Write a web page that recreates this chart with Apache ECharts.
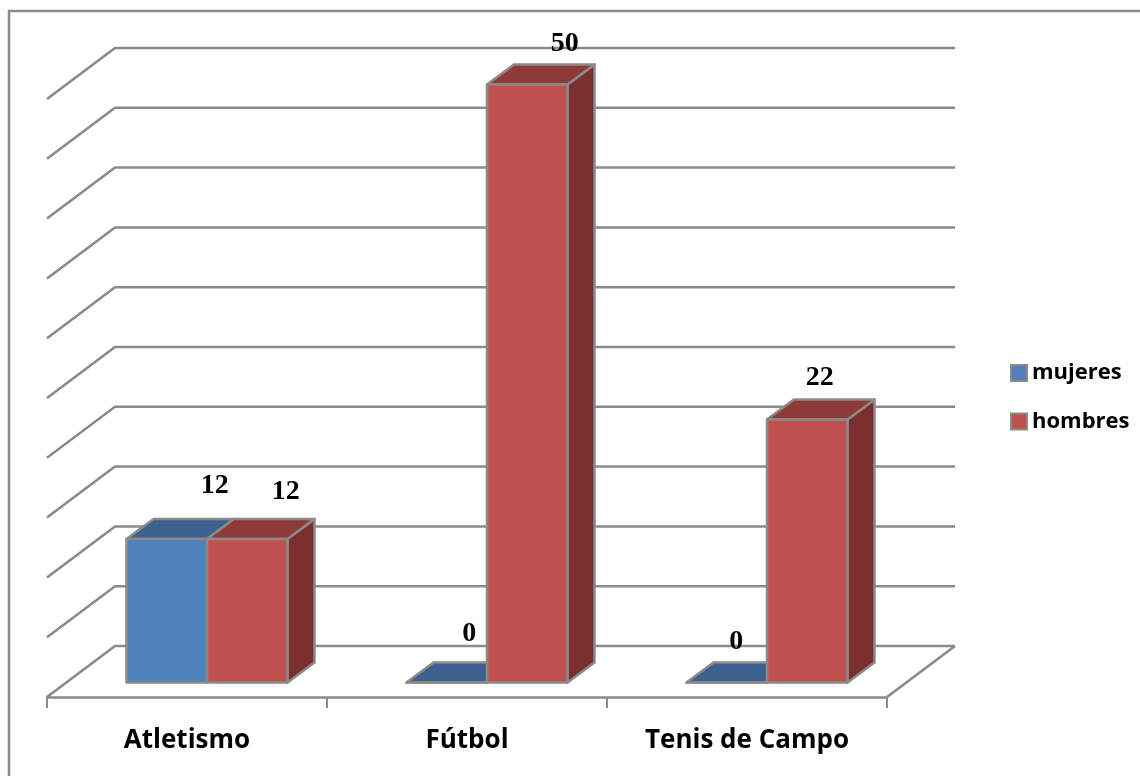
<!DOCTYPE html>
<html>
<head>
<meta charset="utf-8">
<style>html,body{margin:0;padding:0;background:#fff}#c{width:1140px;height:776px}</style>
<script src="https://cdn.jsdelivr.net/npm/echarts@6/dist/echarts.min.js"></script>
</head>
<body>
<div id="c"></div>
<script>
const categories = ['Atletismo', 'Fútbol', 'Tenis de Campo'];
const mujeres = [12, 0, 0];
const hombres = [12, 50, 22];
const gridTicks = [0, 5, 10, 15, 20, 25, 30, 35, 40, 45, 50];

// 3D projection constants (pixels)
const WALL = [68, -51], BAR_FRONT = [20, -14.5], BAR_DEPTH = [27, -20];
const BAR_RATIO = 80.5 / 280;
const EDGE = '#8a8a8a';
const LINE = 2.5;
const labelNudge = {
  mujeres: [[48, -53.5], [22.5, -48.5], [9.5, -40.5]],
  hombres: [[38.5, -47.5], [37.5, -40.5], [12.5, -41.5]]
};
const labelFont = 'bold 28px "Liberation Serif"';

function poly(points, fill) {
  return {type: 'polygon', shape: {points}, style: {fill, stroke: EDGE, lineWidth: LINE, lineJoin: 'round'}};
}
function barItem(side, front, top, sideFill, nudge) {
  return function (params, api) {
    const i = api.value(0), v = api.value(1);
    const base = api.coord([i, 0]), head = api.coord([i, v]);
    const w = api.size([1, 0])[0] * BAR_RATIO;
    const xl = base[0] + BAR_FRONT[0] + (side === 0 ? -w : 0), xr = xl + w;
    const yb = base[1] + BAR_FRONT[1], yt = head[1] + BAR_FRONT[1];
    const dx = BAR_DEPTH[0], dy = BAR_DEPTH[1];
    const n = nudge[i];
    return {type: 'group', children: [
      poly([[xr, yb], [xr + dx, yb + dy], [xr + dx, yt + dy], [xr, yt]], sideFill),
      poly([[xl, yt], [xl + dx, yt + dy], [xr + dx, yt + dy], [xr, yt]], top),
      poly([[xl, yb], [xr, yb], [xr, yt], [xl, yt]], front),
      {type: 'text', z2: 50, style: {text: String(v), x: (xl + xr) / 2 + n[0], y: yt + n[1], align: 'center', verticalAlign: 'middle', font: labelFont, fill: '#000'}}
    ]};
  };
}
function wallItem(params, api) {
  const v = api.value(0), cs = params.coordSys;
  const p = api.coord([0, v]);
  const xl = cs.x, xr = cs.x + cs.width;
  return {type: 'polyline', shape: {points: [[xl, p[1]], [xl + WALL[0], p[1] + WALL[1]], [xr + WALL[0], p[1] + WALL[1]]]},
    style: {fill: null, stroke: EDGE, lineWidth: LINE}};
}
function floorItem(params, api) {
  const cs = params.coordSys, p = api.coord([0, 0]);
  const xr = cs.x + cs.width;
  return {type: 'polyline', shape: {points: [[xr, p[1]], [xr + WALL[0], p[1] + WALL[1]]]},
    style: {fill: null, stroke: EDGE, lineWidth: LINE}};
}

const chart = echarts.init(document.getElementById('c'), null, {renderer: 'canvas'});
chart.setOption({
  animation: false,
  backgroundColor: '#fff',
  graphic: [{type: 'polyline', z: -10, shape: {points: [[9, 776], [9, 11], [1140, 11]]}, style: {fill: null, stroke: EDGE, lineWidth: LINE}}],
  grid: {left: 47, top: 99, width: 840, height: 598, containLabel: false},
  xAxis: {
    type: 'category', data: categories, boundaryGap: true,
    axisLine: {show: true, lineStyle: {color: EDGE, width: LINE}},
    axisTick: {show: true, length: 11, lineStyle: {color: EDGE, width: 2}},
    axisLabel: {show: true, margin: 31, color: '#000', fontFamily: 'Open Sans', fontWeight: 'bold', fontSize: 26}
  },
  yAxis: {type: 'value', min: 0, max: 50, interval: 5, axisLine: {show: false}, axisTick: {show: false}, axisLabel: {show: false}, splitLine: {show: false}},
  legend: {
    orient: 'vertical', left: 1005, top: 357, itemWidth: 16, itemHeight: 16, itemGap: 26.5, icon: 'rect',
    textStyle: {color: '#000', fontFamily: 'Open Sans', fontWeight: 'bold', fontSize: 22},
    data: ['mujeres', 'hombres']
  },
  series: [
    {type: 'custom', name: 'walls', silent: true, z: 1, data: gridTicks.map(t => [t]), encode: {y: 0}, renderItem: wallItem},
    {type: 'custom', name: 'floor', silent: true, z: 1, data: [[0]], encode: {y: 0}, renderItem: floorItem},
    {type: 'custom', name: 'mujeres', z: 3, itemStyle: {color: '#4F81BD', borderColor: EDGE, borderWidth: 2.5},
      data: mujeres.map((v, i) => [i, v]), encode: {x: 0, y: 1},
      renderItem: barItem(0, '#4F81BD', '#3C618F', '#3C618F', labelNudge.mujeres)},
    {type: 'custom', name: 'hombres', z: 4, itemStyle: {color: '#C0504D', borderColor: EDGE, borderWidth: 2.5},
      data: hombres.map((v, i) => [i, v]), encode: {x: 0, y: 1},
      renderItem: barItem(1, '#C0504D', '#8E3A38', '#7A2F2E', labelNudge.hombres)}
  ]
});
</script>
</body>
</html>
